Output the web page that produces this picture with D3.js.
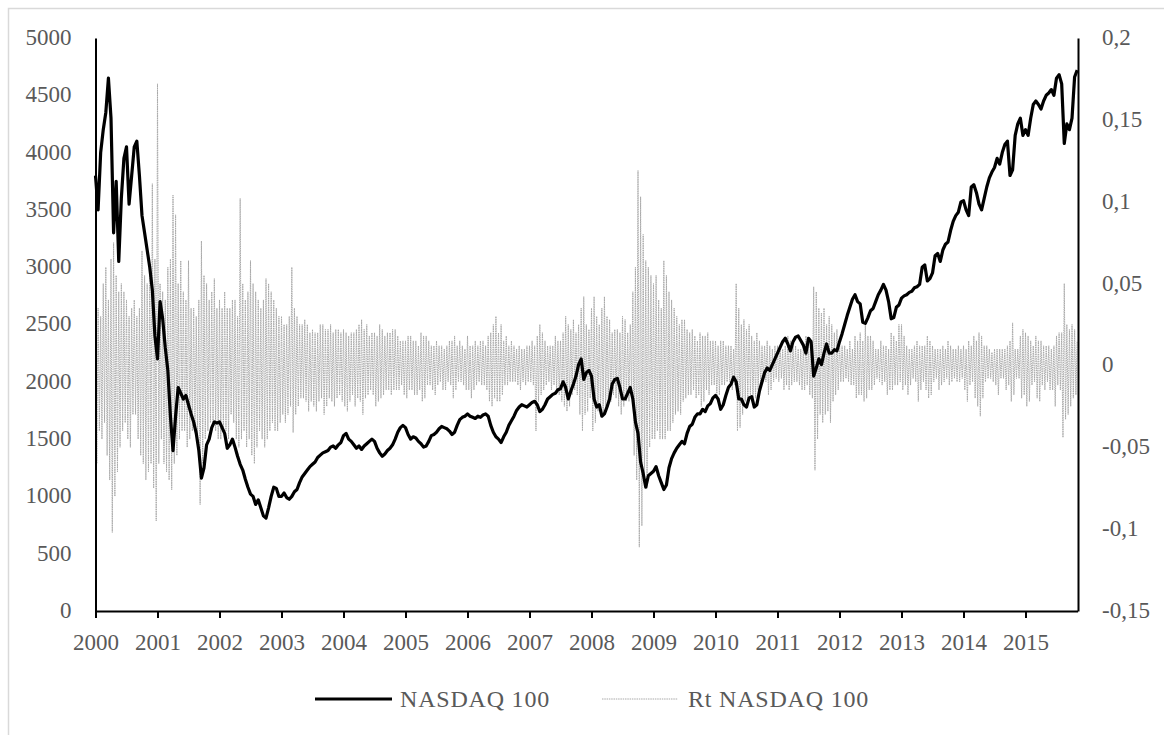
<!DOCTYPE html>
<html>
<head>
<meta charset="utf-8">
<script src="https://cdn.jsdelivr.net/npm/d3@7"></script>
<style>
  body { margin: 0; background: #fff; }
  text { font-family: "Liberation Serif", "Times New Roman", serif; }
</style>
</head>
<body>
<div id="chart"></div>
<script>
// year ticks on the x axis
const years = [2000, 2001, 2002, 2003, 2004, 2005, 2006, 2007, 2008, 2009, 2010, 2011, 2012, 2013, 2014, 2015];
const leftTicks = [0, 500, 1000, 1500, 2000, 2500, 3000, 3500, 4000, 4500, 5000];
const rightTicks = [-0.15, -0.1, -0.05, 0, 0.05, 0.1, 0.15, 0.2];
const seriesNames = ["NASDAQ 100", "Rt NASDAQ 100"];

// NASDAQ 100 level, two readings per month starting Jan 2000
const nasdaq = [
  3800, 3500, 4000, 4200, 4350, 4650, 4300, 3300, 3750, 3050, 3600, 3950, 4050, 3550, 3800, 4050, 4100, 3800, 3450, 3300, 3150, 3000, 2800, 2400,
  2200, 2700, 2550, 2300, 2100, 1700, 1400, 1700, 1950, 1900, 1850, 1880, 1800, 1720, 1650, 1550, 1400, 1160, 1250, 1450, 1500, 1600, 1650, 1640,
  1650, 1600, 1550, 1420, 1450, 1500, 1430, 1350, 1280, 1230, 1150, 1080, 1020, 1000, 930, 970, 900, 830, 810, 900, 1000, 1080, 1070, 1000,
  1000, 1030, 990, 975, 1000, 1040, 1060, 1120, 1170, 1200, 1230, 1260, 1280, 1300, 1340, 1360, 1380, 1390, 1400, 1430, 1440, 1420, 1450, 1470,
  1530, 1550, 1500, 1480, 1450, 1420, 1440, 1410, 1440, 1460, 1480, 1500, 1480, 1420, 1380, 1350, 1370, 1400, 1420, 1450, 1500, 1560, 1600, 1620,
  1600, 1540, 1500, 1520, 1510, 1480, 1460, 1430, 1440, 1480, 1530, 1540, 1560, 1590, 1610, 1600, 1590, 1570, 1540, 1560, 1620, 1670, 1690, 1700,
  1720, 1700, 1690, 1680, 1700, 1690, 1710, 1720, 1700, 1620, 1560, 1520, 1500, 1470, 1520, 1560, 1620, 1660, 1700, 1750, 1780, 1800, 1790, 1780,
  1800, 1820, 1830, 1800, 1740, 1760, 1800, 1850, 1870, 1890, 1900, 1930, 1940, 2000, 1950, 1850, 1920, 1980, 2050, 2150, 2200, 2020, 2080, 2100,
  2050, 1850, 1780, 1800, 1700, 1720, 1780, 1850, 1980, 2020, 2030, 1950, 1850, 1850, 1900, 1950, 1850, 1650, 1550, 1300, 1200, 1080, 1180, 1200,
  1220, 1260, 1180, 1120, 1060, 1100, 1250, 1330, 1380, 1420, 1450, 1480, 1460, 1550, 1610, 1630, 1690, 1720, 1720, 1760, 1740, 1790, 1810, 1860,
  1880, 1850, 1760, 1800, 1880, 1950, 1980, 2040, 2000, 1850, 1850, 1800, 1780, 1860, 1870, 1780, 1800, 1920, 2000, 2080, 2120, 2100, 2150, 2200,
  2250, 2300, 2350, 2380, 2330, 2270, 2350, 2390, 2400, 2360, 2320, 2250, 2380, 2350, 2050, 2120, 2200, 2150, 2250, 2330, 2250, 2250, 2280, 2270,
  2350, 2420, 2500, 2580, 2650, 2720, 2760, 2700, 2680, 2520, 2510, 2560, 2620, 2640, 2700, 2760, 2800, 2850, 2800, 2700, 2550, 2560, 2650, 2670,
  2730, 2750, 2760, 2780, 2790, 2820, 2830, 2850, 3000, 3020, 2880, 2900, 2950, 3100, 3120, 3050, 3150, 3200, 3220, 3320, 3400, 3450, 3480, 3570,
  3580, 3500, 3450, 3700, 3720, 3650, 3550, 3500, 3600, 3700, 3780, 3830, 3870, 3950, 3900, 4000, 4070, 4100, 3800, 3850, 4150, 4250, 4300, 4150,
  4200, 4150, 4300, 4420, 4450, 4420, 4380, 4450, 4500, 4520, 4550, 4500, 4650, 4680, 4600, 4080, 4250, 4200, 4300, 4660, 4720
];

// daily return band, four readings per month starting Jan 2000
const returns = [
  .045, -.060, .035, -.040, .030, -.045, .050, -.035, .060, -.055, .040, -.070, .065, -.102, .075, -.080, .055, -.065, .045, -.050, .050, -.040, .045, -.035,
  .040, -.045, .030, -.050, .035, -.030, .040, -.030, .030, -.045, .035, -.055, .070, -.060, .055, -.070, .050, -.065, .060, -.060, .111, -.075, .065, -.095,
  .172, -.060, .050, -.045, .045, -.060, .040, -.065, .060, -.070, .065, -.076, .104, -.060, .092, -.055, .050, -.045, .064, -.040, .045, -.040, .040, -.050,
  .064, -.045, .035, -.040, .035, -.040, .030, -.045, .040, -.085, .076, -.060, .055, -.045, .050, -.040, .040, -.035, .045, -.035, .053, -.040, .035, -.045,
  .040, -.045, .035, -.040, .045, -.040, .035, -.045, .035, -.030, .040, -.035, .040, -.045, .030, -.050, .102, -.045, .050, -.040, .040, -.050, .045, -.045,
  .064, -.055, .050, -.060, .045, -.050, .040, -.040, .035, -.045, .040, -.050, .053, -.045, .050, -.040, .045, -.035, .040, -.040, .035, -.040, .030, -.035,
  .030, -.030, .025, -.035, .025, -.030, .030, -.025, .060, -.041, .035, -.030, .030, -.025, .025, -.020, .025, -.020, .028, -.022, .025, -.028, .020, -.022,
  .022, -.025, .020, -.028, .020, -.022, .025, -.020, .025, -.030, .022, -.025, .022, -.020, .025, -.022, .020, -.025, .022, -.020, .022, -.018, .020, -.022,
  .022, -.025, .020, -.028, .018, -.022, .020, -.018, .020, -.025, .022, -.020, .025, -.022, .028, -.030, .022, -.020, .025, -.018, .018, -.015, .020, -.018,
  .020, -.025, .018, -.022, .025, -.020, .022, -.018, .018, -.015, .020, -.015, .020, -.018, .022, -.015, .022, -.015, .018, -.015, .015, -.012, .015, -.018,
  .015, -.020, .018, -.015, .018, -.015, .015, -.018, .015, -.018, .012, -.015, .020, -.022, .018, -.020, .018, -.012, .015, -.012, .012, -.015, .012, -.018,
  .015, -.012, .012, -.010, .012, -.015, .010, -.015, .012, -.010, .015, -.012, .015, -.020, .018, -.015, .012, -.010, .015, -.010, .012, -.012, .010, -.015,
  .018, -.015, .012, -.020, .012, -.015, .015, -.012, .012, -.010, .015, -.012, .015, -.012, .012, -.015, .018, -.022, .020, -.025, .025, -.020, .030, -.022,
  .020, -.022, .025, -.018, .015, -.012, .018, -.012, .012, -.010, .015, -.010, .012, -.010, .010, -.012, .012, -.015, .010, -.010, .010, -.012, .012, -.010,
  .012, -.010, .015, -.012, .012, -.040, .018, -.022, .025, -.018, .020, -.015, .015, -.012, .012, -.010, .012, -.015, .012, -.012, .018, -.015, .015, -.018,
  .015, -.022, .020, -.025, .030, -.028, .025, -.025, .022, -.018, .028, -.015, .020, -.018, .025, -.030, .035, -.040, .042, -.030, .025, -.028, .022, -.020,
  .035, -.040, .042, -.035, .030, -.028, .025, -.030, .035, -.030, .042, -.028, .030, -.025, .028, -.022, .020, -.018, .022, -.020, .022, -.025, .020, -.030,
  .030, -.025, .028, -.022, .020, -.022, .025, -.020, .045, -.055, .060, -.070, .119, -.111, .103, -.098, .080, -.070, .064, -.075, .060, -.050, .055, -.045,
  .050, -.045, .055, -.040, .040, -.045, .035, -.045, .064, -.045, .055, -.040, .045, -.040, .040, -.035, .035, -.030, .030, -.028, .025, -.030, .028, -.022,
  .028, -.020, .022, -.018, .020, -.018, .022, -.015, .018, -.020, .015, -.018, .020, -.025, .018, -.022, .018, -.015, .020, -.018, .015, -.012, .015, -.012,
  .015, -.020, .012, -.018, .015, -.012, .015, -.012, .012, -.010, .012, -.010, .012, -.015, .010, -.012, .050, -.040, .035, -.038, .025, -.030, .028, -.022,
  .022, -.020, .025, -.018, .018, -.022, .015, -.020, .020, -.015, .015, -.012, .012, -.010, .012, -.010, .015, -.018, .012, -.015, .010, -.010, .012, -.008,
  .012, -.010, .012, -.008, .010, -.015, .012, -.012, .018, -.015, .015, -.012, .012, -.010, .012, -.010, .010, -.012, .010, -.015, .012, -.015, .018, -.012,
  .015, -.018, .012, -.020, .048, -.064, .045, -.045, .035, -.030, .032, -.035, .035, -.030, .025, -.028, .030, -.035, .025, -.022, .020, -.018, .022, -.015,
  .015, -.010, .012, -.010, .012, -.008, .010, -.010, .015, -.012, .010, -.012, .018, -.020, .015, -.018, .020, -.018, .015, -.022, .025, -.020, .018, -.015,
  .018, -.015, .015, -.012, .010, -.008, .010, -.010, .015, -.012, .012, -.010, .012, -.018, .010, -.015, .020, -.015, .018, -.012, .015, -.012, .025, -.010,
  .025, -.015, .018, -.012, .012, -.018, .010, -.012, .010, -.008, .012, -.010, .015, -.022, .012, -.015, .012, -.010, .012, -.015, .018, -.020, .015, -.018,
  .012, -.010, .010, -.008, .010, -.015, .010, -.012, .012, -.010, .010, -.008, .015, -.012, .012, -.010, .010, -.008, .010, -.010, .012, -.010, .010, -.008,
  .012, -.015, .010, -.022, .015, -.012, .012, -.010, .018, -.020, .015, -.025, .020, -.031, .018, -.020, .012, -.010, .012, -.008, .010, -.008, .008, -.010,
  .010, -.012, .010, -.018, .010, -.008, .010, -.008, .010, -.015, .012, -.012, .015, -.022, .026, -.018, .010, -.008, .010, -.008, .018, -.020, .022, -.018,
  .020, -.025, .018, -.022, .015, -.012, .012, -.010, .018, -.020, .015, -.022, .015, -.012, .012, -.015, .012, -.010, .012, -.015, .010, -.015, .012, -.025,
  .018, -.012, .020, -.015, .020, -.044, .050, -.033, .025, -.030, .022, -.025, .025, -.020, .022, -.018, .015
];

const width = 1164, height = 735;

const svg = d3.select("#chart")
    .append("svg")
    .attr("width", width)
    .attr("height", height);

// outer chart frame (only top and left edges are inside the picture)
svg.append("rect")
    .attr("x", 8.5).attr("y", 8.5)
    .attr("width", 1300).attr("height", 900)
    .attr("fill", "none")
    .attr("stroke", "#d9d9d9")
    .attr("stroke-width", 1.5);

let x = d3.scaleLinear().domain([2000, 2015.84]).range([95.5, 1077.6]);
let yLeft = d3.scaleLinear().domain([0, 5000]).range([611, 38]);
let yRight = d3.scaleLinear().domain([-0.15, 0.2]).range([611, 38]);

let commaFmt = d3.formatLocale({ decimal: ",", thousands: ".", grouping: [3], currency: ["", ""], minus: "-" }).format(".2~f");

// return series (secondary axis), drawn first so the index line sits on top
let retLine = d3.line()
    .x((d, i) => x(2000 + i / 48))
    .y(d => yRight(d));

svg.append("path")
    .datum(returns)
    .attr("fill", "none")
    .attr("stroke", "#a9a9a9")
    .attr("stroke-width", 1)
    .attr("stroke-dasharray", "1.5,0.8")
    .attr("d", retLine);

let priceLine = d3.line()
    .x((d, i) => x(2000 + i / 24))
    .y(d => yLeft(d));

svg.append("path")
    .datum(nasdaq)
    .attr("fill", "none")
    .attr("stroke", "#000")
    .attr("stroke-width", 3.2)
    .attr("stroke-linejoin", "round")
    .attr("d", priceLine);

// axes
let xAxis = svg.append("g")
    .attr("transform", "translate(0,611)")
    .call(d3.axisBottom(x).tickValues(years).tickFormat(d3.format("d")).tickSize(7).tickSizeOuter(0));

let leftAxis = svg.append("g")
    .attr("transform", "translate(95.5,0)")
    .call(d3.axisLeft(yLeft).tickValues(leftTicks).tickFormat(d3.format("d")).tickSize(0).tickPadding(24).tickSizeOuter(0));

let rightAxis = svg.append("g")
    .attr("transform", "translate(1078,0)")
    .call(d3.axisRight(yRight).tickValues(rightTicks).tickFormat(commaFmt).tickSize(0).tickPadding(24).tickSizeOuter(0));

[xAxis, leftAxis, rightAxis].forEach(function (g) {
    g.select(".domain").attr("stroke", "#000").attr("stroke-width", 2);
    g.selectAll(".tick line").attr("stroke", "#000").attr("stroke-width", 2);
    g.selectAll("text")
        .attr("fill", "#595959")
        .style("font-size", "23px")
        .style("font-family", "'Liberation Serif', 'Times New Roman', serif");
});

xAxis.selectAll("text").attr("y", 39).attr("dy", 0);
leftAxis.selectAll("text").attr("dy", "0.28em");
rightAxis.selectAll("text").attr("dy", "0.28em");

// legend
let legend = svg.append("g");

legend.append("line")
    .attr("x1", 315).attr("x2", 392)
    .attr("y1", 699).attr("y2", 699)
    .attr("stroke", "#000").attr("stroke-width", 3);

legend.append("text")
    .attr("x", 400).attr("y", 707)
    .attr("fill", "#595959")
    .style("font-size", "24px")
    .style("letter-spacing", "0.8px")
    .text(seriesNames[0]);

legend.append("line")
    .attr("x1", 602).attr("x2", 678)
    .attr("y1", 699).attr("y2", 699)
    .attr("stroke", "#a9a9a9").attr("stroke-width", 1)
    .attr("stroke-dasharray", "1.5,0.8");

legend.append("text")
    .attr("x", 688).attr("y", 707)
    .attr("fill", "#595959")
    .style("font-size", "24px")
    .style("letter-spacing", "0.8px")
    .text(seriesNames[1]);
</script>
</body>
</html>
